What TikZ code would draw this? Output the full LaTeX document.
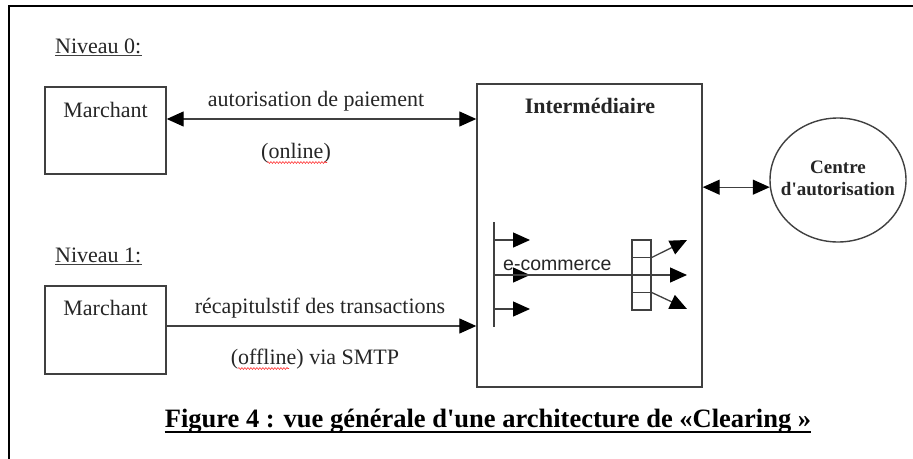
\documentclass[tikz,border=0pt]{standalone}
\usepackage{fontspec}
\setmainfont{Liberation Serif}
\newfontfamily\ecomfont{Liberation Sans}
\usetikzlibrary{arrows.meta,shapes.geometric,decorations.pathmorphing}
\begin{document}
\begin{tikzpicture}[x=1pt,y=-1pt,
  txt/.style={inner sep=0pt,anchor=base,text=black!85,font=\fontsize{22}{26}\selectfont},
  boxx/.style={draw=black!75,line width=1.4pt,inner sep=0pt},
  conn/.style={draw=black!75,line width=1.3pt},
  tip/.style={-{Triangle[length=17pt,width=15pt,fill=black,color=black]}},
  dtip/.style={{Triangle[length=17pt,width=15pt,fill=black,color=black]}-{Triangle[length=17pt,width=15pt,fill=black,color=black]}},
  squig/.style={draw=red!80,line width=0.6pt,decorate,decoration={snake,segment length=3pt,amplitude=0.9pt}}]
\useasboundingbox (0,0) rectangle (913,458);
\clip (0,0) rectangle (913,458);
\fill[white] (0,0) rectangle (913,458);
% outer frame
\draw[line width=2.4pt,black] (9,6) rectangle (960,500);

% level labels
\node[txt,anchor=base west] (niv0) at (55,53) {Niveau 0:};
\node[txt,anchor=base west] (niv1) at (55,262) {Niveau 1:};
\draw[black!75,line width=1pt] ([yshift=-2.5pt]niv0.base west) -- ([yshift=-2.5pt]niv0.base east);
\draw[black!75,line width=1pt] ([yshift=-2.5pt]niv1.base west) -- ([yshift=-2.5pt]niv1.base east);

% boxes
\node[boxx,minimum width=121pt,minimum height=87pt] (m0) at (105.5,130.5) {};
\node[txt] (m0t) at (105.5,117) {Marchant};
\node[boxx,minimum width=121pt,minimum height=88pt] (m1) at (105.5,330) {};
\node[txt] (m1t) at (105.5,315) {Marchant};
\node[boxx,minimum width=225pt,minimum height=303pt] (im) at (589.5,235.5) {};
\node[txt,font=\bfseries\fontsize{22}{26}\selectfont] (imt) at (590,113) {Intermédiaire};
\node[boxx,ellipse,minimum width=136pt,minimum height=124pt] (ce) at (838,180) {};
\node[txt,font=\bfseries\fontsize{19}{22}\selectfont] (ce1) at (838,173) {Centre};
\node[txt,font=\bfseries\fontsize{19}{22}\selectfont] (ce2) at (838,195) {d\textquotesingle autorisation};

% connector labels
\node[txt] (a0t) at (316,106) {autorisation de paiement};
\node[txt] (onl) at (296,158) {(online)};
\node[txt] (rec) at (320,313) {récapitulstif des transactions};
\node[txt] (off) at (315,364) {(offline) via SMTP};
\draw[squig] (267,162.5) -- (327,162.5);
\draw[squig] (238,368.5) -- (289,368.5);

% connectors
\coordinate (r0) at (0,119);
\coordinate (r1) at (0,326);
\draw[conn,dtip] (m0.east |- r0) -- (im.west |- r0);
\draw[conn,tip] (m1.east |- r1) -- (im.west |- r1);
\draw[conn,dtip] (im.east |- ce.186.8) -- (ce.186.8);

% inner e-commerce drawing
\coordinate (vt) at (494,222);
\coordinate (vb) at (494,327);
\coordinate (a1) at (494,240);
\coordinate (a2) at (494,275);
\coordinate (a3) at (494,309);
\coordinate (b1) at (530,240);
\coordinate (b2) at (530,275);
\coordinate (b3) at (530,309);
\draw[conn] (vt) -- (vb);
\draw[conn,tip] (a1) -- (b1);
\draw[conn,tip] (a2) -- (b2);
\draw[conn,tip] (a3) -- (b3);
\node[boxx,minimum width=19pt,minimum height=70pt] (reg) at (641.5,275) {};
\coordinate (d1) at (0,257.5);
\coordinate (d3) at (0,292.5);
\draw[conn] (reg.west |- d1) -- (reg.east |- d1);
\draw[conn] (reg.west |- d3) -- (reg.east |- d3);
\coordinate (o1) at (687,240);
\coordinate (o2) at (687,275);
\coordinate (o3) at (687,309);
\draw[conn,tip] (a2) -- (o2);
\draw[conn,tip] (reg.east |- d1) -- (o1);
\draw[conn,tip] (reg.east |- d3) -- (o3);
\node[txt,anchor=base west,font=\ecomfont\fontsize{19.5}{22}\selectfont] (ecom) at (503,270) {e-commerce};

% caption
\node[inner sep=0pt,anchor=base,font=\bfseries\fontsize{26.5}{30}\selectfont] (cap) at (488,427) {Figure 4 : vue générale d\textquotesingle une architecture de «Clearing »};
\draw[line width=2.8pt] ([yshift=-5pt]cap.base west) -- ([yshift=-5pt]cap.base east);
\end{tikzpicture}
\end{document}
